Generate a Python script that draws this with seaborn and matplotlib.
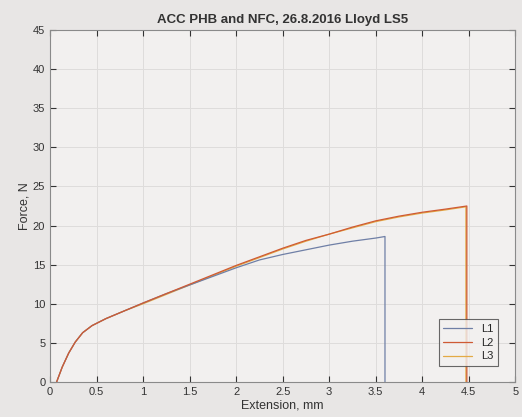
import matplotlib
matplotlib.use("Agg")
import numpy as np
import pandas as pd
import matplotlib.pyplot as plt
import seaborn as sns

ext_l1 = [0.07, 0.13, 0.2, 0.27, 0.35, 0.45, 0.6, 0.8, 1.0, 1.25, 1.5, 1.75, 2.0, 2.25, 2.5, 2.75, 3.0, 3.25, 3.5, 3.6, 3.6]
force_l1 = [0, 1.9, 3.7, 5.1, 6.3, 7.2, 8.1, 9.1, 10.1, 11.3, 12.4, 13.5, 14.6, 15.6, 16.3, 16.9, 17.5, 18.0, 18.4, 18.6, 0]

ext_l2 = [0.07, 0.13, 0.2, 0.27, 0.35, 0.45, 0.6, 0.8, 1.0, 1.25, 1.5, 1.75, 2.0, 2.25, 2.5, 2.75, 3.0, 3.25, 3.5, 3.75, 4.0, 4.25, 4.48, 4.48]
force_l2 = [0, 1.9, 3.7, 5.1, 6.3, 7.2, 8.1, 9.1, 10.1, 11.3, 12.5, 13.7, 14.9, 16.0, 17.1, 18.1, 18.9, 19.8, 20.6, 21.2, 21.7, 22.1, 22.5, 0]

ext_l3 = [0.07, 0.13, 0.2, 0.27, 0.35, 0.45, 0.6, 0.8, 1.0, 1.25, 1.5, 1.75, 2.0, 2.25, 2.5, 2.75, 3.0, 3.25, 3.5, 3.75, 4.0, 4.25, 4.47, 4.47]
force_l3 = [0, 1.9, 3.7, 5.1, 6.3, 7.2, 8.1, 9.1, 10.0, 11.2, 12.4, 13.6, 14.8, 15.9, 17.0, 18.0, 18.9, 19.7, 20.5, 21.1, 21.6, 22.0, 22.4, 0]

labels = ["L1", "L2", "L3"]
colors = ["#6f7fa6", "#cf5a34", "#e3aa45"]

df = pd.concat([
    pd.DataFrame({"ext": ext_l1, "force": force_l1, "curve": "L1"}),
    pd.DataFrame({"ext": ext_l2, "force": force_l2, "curve": "L2"}),
    pd.DataFrame({"ext": ext_l3, "force": force_l3, "curve": "L3"}),
], ignore_index=True)

sns.set_theme(style="ticks")
plt.rcParams["font.family"] = ["Liberation Sans", "DejaVu Sans"]

fig = plt.figure(figsize=(5.22, 4.17), dpi=100)
fig.patch.set_facecolor("#e8e6e5")
ax = fig.add_axes([0.096, 0.084, 0.891, 0.844])
ax.set_facecolor("#f2f0ef")

sns.lineplot(data=df, x="ext", y="force", hue="curve", hue_order=labels,
             palette=colors, sort=False, estimator=None, linewidth=0.9, ax=ax)

# L3 queda debajo de L2 como en la foto
ax.lines[2].set_zorder(1.8)

ax.set_xlim(0, 5)
ax.set_ylim(0, 45)
ax.set_xticks(np.arange(0, 5.01, 0.5))
ax.set_xticklabels(["0", "0.5", "1", "1.5", "2", "2.5", "3", "3.5", "4", "4.5", "5"])
ax.set_yticks(range(0, 46, 5))
ax.grid(True, color="#dedcdb", linewidth=0.7)
ax.tick_params(direction="in", top=True, right=True, labelsize=8, colors="#333333",
               length=4, width=0.8)
for s in ax.spines.values():
    s.set_color("#8a8a8a")
    s.set_linewidth(0.8)

ax.set_xlabel("Extension, mm", fontsize=9, color="#333333", labelpad=2)
ax.set_ylabel("Force, N", fontsize=9, color="#333333", labelpad=2)
ax.set_title("ACC PHB and NFC, 26.8.2016 Lloyd LS5", fontsize=9.5, fontweight="bold",
             color="#333333", pad=5)

leg = ax.legend(loc="lower right", fontsize=8, frameon=True, fancybox=False,
                handlelength=2.6, borderpad=0.4, labelspacing=0.35,
                bbox_to_anchor=(0.975, 0.03))
leg.get_frame().set_edgecolor("#444444")
leg.get_frame().set_facecolor("#f2f0ef")
leg.get_frame().set_linewidth(0.8)
leg.set_title(None)

fig.savefig("out.png", dpi=100, facecolor=fig.get_facecolor())
